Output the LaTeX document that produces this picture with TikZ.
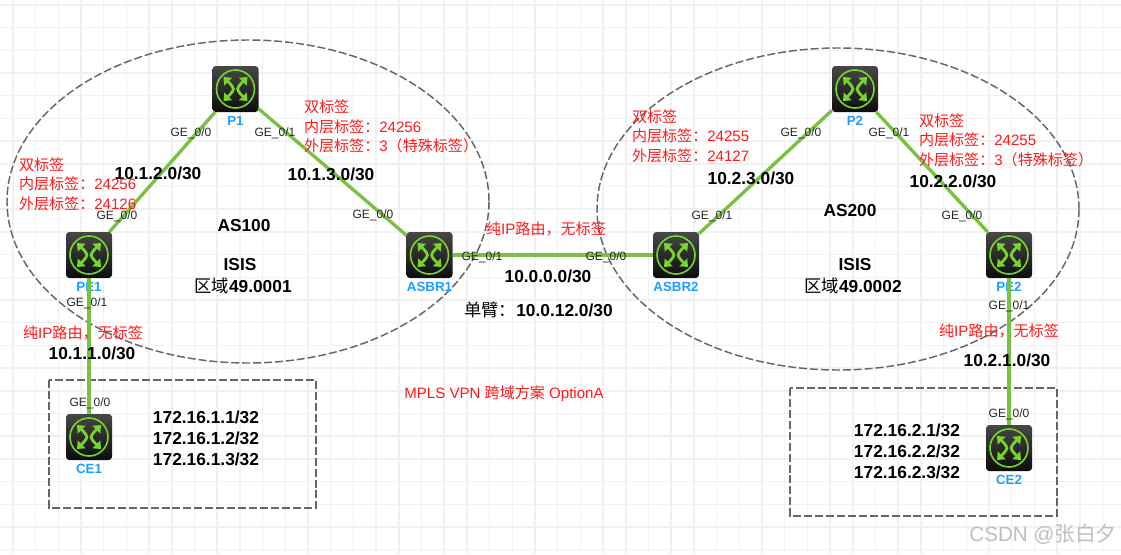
\documentclass[tikz,border=0pt]{standalone}
\usepackage{fontspec}
\setmainfont{Liberation Sans}
\newfontfamily\cjk{Noto Sans CJK SC}
\usetikzlibrary{arrows.meta,positioning}
\definecolor{linkgreen}{HTML}{7AC143}
\definecolor{icongreen}{HTML}{78D62A}
\definecolor{nameblue}{HTML}{1E9FFF}
\definecolor{labelred}{HTML}{FF1A1A}
\definecolor{gridgray}{HTML}{F1F1F1}
\definecolor{dashgray}{HTML}{666666}
\newcommand{\zh}[1]{{\cjk #1}}

\begin{document}
\begin{tikzpicture}[
  x=0.75pt, y=-0.75pt,
  every node/.style={inner sep=0pt, outer sep=0pt},
  gridline/.style={gridgray, line width=1.1pt},
  arealine/.style={dashgray, line width=1.1pt, dash pattern=on 6pt off 2.2pt},
  link/.style={linkgreen, line width=2.5pt},
  router/.style={minimum size=34.5pt, rounded corners=2.5pt,
    top color=black!72, bottom color=black!95,
    label={[namelabel]below:#1},
    path picture={
      \coordinate (c) at (path picture bounding box.center);
      \draw[icongreen, line width=1.2pt] (c) circle (19);
      \foreach \ang in {45,135,225,315}
        \draw[icongreen, line width=2.1pt, -{Triangle[length=5pt,width=8pt]}]
          ([shift={(\ang:7)}]c) -- ([shift={(\ang:17)}]c);
      \foreach \side in {1,-1}
        \draw[icongreen, line width=2.1pt]
          ([shift={(\side*5.5,-5.5)}]c) .. controls ([shift={(\side*1,0)}]c) .. ([shift={(\side*5.5,5.5)}]c);
    }},
  namelabel/.style={font=\fontsize{10}{12}\selectfont\bfseries, text=nameblue, yshift=-3pt},
  portlabel/.style={font=\fontsize{9}{11}\selectfont, text=black!85},
  netlabel/.style={font=\fontsize{13}{15}\selectfont\bfseries, text=black},
  listlabel/.style={netlabel, align=center, font=\fontsize{13}{15.8}\selectfont\bfseries},
  redlabel/.style={font=\fontsize{11.3}{14.6}\selectfont, text=labelred, align=left},
]
\useasboundingbox (0,0) rectangle (1121,554);
\fill[white] (0,0) rectangle (1121,554);

% background grid
\foreach \i in {0,...,48}
  \draw[gridline] ({12.9+22.7*\i},0) -- ({12.9+22.7*\i},554);
\foreach \i in {0,...,24}
  \draw[gridline] (0,{4.9+22.7*\i}) -- (1121,{4.9+22.7*\i});

% areas
\draw[arealine] (248,201.5) ellipse (241 and 161.5);
\draw[arealine] (838,209) ellipse (241 and 161);
\draw[arealine] (49,380) rectangle (316,508);
\draw[arealine] (790,388) rectangle (1057,516);

% routers
\node[router=P1] (P1) at (235.5,89) {};
\node[router=PE1] (PE1) at (89,255) {};
\node[router=ASBR1] (ASBR1) at (429.5,255) {};
\node[router=CE1] (CE1) at (89,437) {};
\node[router=P2] (P2) at (855,89) {};
\node[router=ASBR2] (ASBR2) at (676,255) {};
\node[router=PE2] (PE2) at (1009,255) {};
\node[router=CE2] (CE2) at (1009,448) {};

\draw[link] (P1) -- (PE1);
\draw[link] (P1) -- (ASBR1);
\draw[link] (PE1) -- (CE1);
\draw[link] (ASBR1) -- (ASBR2);
\draw[link] (P2) -- (ASBR2);
\draw[link] (P2) -- (PE2);
\draw[link] (PE2) -- (CE2);

% ports
\node[portlabel] (p1a) at (191,133) {GE\_0/0};
\node[portlabel] (p1b) at (275,133) {GE\_0/1};
\node[portlabel] (pe1a) at (117,216) {GE\_0/0};
\node[portlabel] (pe1b) at (87,303) {GE\_0/1};
\node[portlabel] (ce1a) at (90,403) {GE\_0/0};
\node[portlabel] (asbr1a) at (373,215) {GE\_0/0};
\node[portlabel] (asbr1b) at (482,257) {GE\_0/1};
\node[portlabel] (asbr2a) at (606,257) {GE\_0/0};
\node[portlabel] (asbr2b) at (712,216) {GE\_0/1};
\node[portlabel] (p2a) at (801,133) {GE\_0/0};
\node[portlabel] (p2b) at (889,133) {GE\_0/1};
\node[portlabel] (pe2a) at (962,216) {GE\_0/0};
\node[portlabel] (pe2b) at (1009,306) {GE\_0/1};
\node[portlabel] (ce2a) at (1009,414) {GE\_0/0};

% networks
\node[netlabel] (net12) at (158,173) {10.1.2.0/30};
\node[netlabel] (net13) at (331,174) {10.1.3.0/30};
\node[netlabel] (net11) at (92,353) {10.1.1.0/30};
\node[netlabel] (net23) at (751,178) {10.2.3.0/30};
\node[netlabel] (net22) at (953,181) {10.2.2.0/30};
\node[netlabel] (net21) at (1007,360) {10.2.1.0/30};
\node[netlabel] (net00) at (548,276) {10.0.0.0/30};
\node[netlabel] (net012) at (538.5,310) {\zh{\mdseries 单臂：}10.0.12.0/30};

\node[netlabel] (as100) at (244,226) {AS100};
\node[netlabel] (isis1) at (240,265) {ISIS};
\node[netlabel] (area1) at (243,286) {\zh{\mdseries 区域}49.0001};
\node[netlabel] (as200) at (850,211) {AS200};
\node[netlabel] (isis2) at (855,265) {ISIS};
\node[netlabel] (area2) at (853,286) {\zh{\mdseries 区域}49.0002};

\node[listlabel] (list1) at (206,438) {172.16.1.1/32\\172.16.1.2/32\\172.16.1.3/32};
\node[listlabel] (list2) at (907,451) {172.16.2.1/32\\172.16.2.2/32\\172.16.2.3/32};

% label notes
\node[redlabel, anchor=west] (labpe1) at (19,184)
  {\zh{双标签}\\\zh{内层标签：}24256\\\zh{外层标签：}24126};
\node[redlabel, anchor=west] (labp1) at (304,126.5)
  {\zh{双标签}\\\zh{内层标签：}24256\\\zh{外层标签：}3\zh{（特殊标签）}};
\node[redlabel, anchor=west] (labasbr2) at (632,136)
  {\zh{双标签}\\\zh{内层标签：}24255\\\zh{外层标签：}24127};
\node[redlabel, anchor=west] (labp2) at (919,140)
  {\zh{双标签}\\\zh{内层标签：}24255\\\zh{外层标签：}3\zh{（特殊标签）}};

\node[redlabel] (plain1) at (83,333) {\zh{纯}IP\zh{路由，无标签}};
\node[redlabel] (plain0) at (546,229) {\zh{纯}IP\zh{路由，无标签}};
\node[redlabel] (plain2) at (999,331) {\zh{纯}IP\zh{路由，无标签}};
\node[redlabel] (title) at (504,394) {MPLS VPN \zh{跨域方案} OptionA};

\node[font=\fontsize{15.5}{18}\selectfont, text=black!25] (mark) at (1043,534) {CSDN @\zh{张白夕}};
\end{tikzpicture}
\end{document}
